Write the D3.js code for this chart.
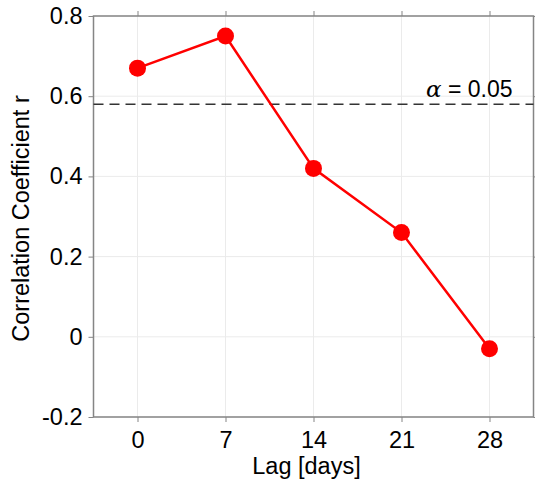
<!DOCTYPE html>
<html>
<head>
<meta charset="utf-8">
<script src="https://cdn.jsdelivr.net/npm/d3@7"></script>
<style>
  body { margin: 0; background: #fff; }
  svg text { font-family: "Liberation Sans", Arial, Helvetica, sans-serif; fill: #000; }
</style>
</head>
<body>
<svg id="chart"></svg>
<script>
// data
const lags = [0, 7, 14, 21, 28];
const rValues = [0.67, 0.75, 0.42, 0.26, -0.03];
const alphaLevel = 0.58;
const xTicks = [0, 7, 14, 21, 28];
const yTicks = [-0.2, 0, 0.2, 0.4, 0.6, 0.8];
const yTickLabels = ['-0.2', '0', '0.2', '0.4', '0.6', '0.8'];

const width = 535, height = 485;
const plot = {left: 93.5, right: 533.5, top: 16, bottom: 417};

const svg = d3.select('#chart')
  .attr('width', width)
  .attr('height', height);

const x = d3.scaleLinear()
  .domain([-3.5, 31.5])
  .range([plot.left, plot.right]);

const y = d3.scaleLinear()
  .domain([-0.2, 0.8])
  .range([plot.bottom, plot.top]);

// grid
const grid = svg.append('g');
grid.selectAll('.gx')
  .data(xTicks)
  .enter()
  .append('line')
  .attr('x1', d => x(d)).attr('x2', d => x(d))
  .attr('y1', plot.top).attr('y2', plot.bottom)
  .attr('stroke', '#ebebeb').attr('stroke-width', 1);
grid.selectAll('.gy')
  .data(yTicks)
  .enter()
  .append('line')
  .attr('x1', plot.left).attr('x2', plot.right)
  .attr('y1', d => y(d)).attr('y2', d => y(d))
  .attr('stroke', '#ebebeb').attr('stroke-width', 1);

// axes
const axisStyle = g => {
  g.select('.domain').remove();
  g.selectAll('.tick line').attr('stroke', '#858585').attr('stroke-width', 1);
  g.selectAll('.tick text').style('font-size', '23.5px').attr('fill', '#000');
};

svg.append('g')
  .attr('transform', `translate(0, ${plot.bottom})`)
  .call(d3.axisBottom(x).tickValues(xTicks).tickSize(5).tickPadding(9))
  .call(axisStyle);

svg.append('g')
  .attr('transform', `translate(0, ${plot.top})`)
  .call(d3.axisTop(x).tickValues(xTicks).tickSize(5).tickFormat(''))
  .call(axisStyle);

svg.append('g')
  .attr('transform', `translate(${plot.left}, 0)`)
  .call(d3.axisLeft(y).tickValues(yTicks).tickSize(5).tickPadding(6)
    .tickFormat((d, i) => yTickLabels[i]))
  .call(axisStyle);

svg.append('g')
  .attr('transform', `translate(${plot.right}, 0)`)
  .call(d3.axisRight(y).tickValues(yTicks).tickSize(5).tickFormat(''))
  .call(axisStyle);

// frame
svg.append('rect')
  .attr('x', plot.left).attr('y', plot.top)
  .attr('width', plot.right - plot.left)
  .attr('height', plot.bottom - plot.top)
  .attr('fill', 'none')
  .attr('stroke', '#858585')
  .attr('stroke-width', 1.5);

// significance line
svg.append('line')
  .attr('x1', plot.left).attr('x2', plot.right)
  .attr('y1', y(alphaLevel)).attr('y2', y(alphaLevel))
  .attr('stroke', '#333')
  .attr('stroke-width', 1.5)
  .attr('stroke-dasharray', '10,6');

const alphaText = svg.append('text')
  .attr('x', x(31.5) - 21)
  .attr('y', y(alphaLevel) - 7)
  .attr('text-anchor', 'end')
  .style('font-size', '23px');
alphaText.append('tspan')
  .style('font-family', '"DejaVu Serif", "Liberation Serif", serif')
  .style('font-style', 'italic')
  .text('α');
alphaText.append('tspan').text(' = 0.05');

// series
const line = d3.line()
  .x((d, i) => x(lags[i]))
  .y(d => y(d));

svg.append('path')
  .datum(rValues)
  .attr('d', line)
  .attr('fill', 'none')
  .attr('stroke', '#ff0000')
  .attr('stroke-width', 2.5);

svg.selectAll('.pt')
  .data(rValues)
  .enter()
  .append('circle')
  .attr('cx', (d, i) => x(lags[i]))
  .attr('cy', d => y(d))
  .attr('r', 8.5)
  .attr('fill', '#ff0000');

// axis labels
svg.append('text')
  .attr('x', (plot.left + plot.right) / 2 - 7)
  .attr('y', 474)
  .attr('text-anchor', 'middle')
  .style('font-size', '23.5px')
  .text('Lag [days]');

svg.append('text')
  .attr('transform', `translate(29, ${(plot.top + plot.bottom) / 2 + 2}) rotate(-90)`)
  .attr('text-anchor', 'middle')
  .style('font-size', '23.5px')
  .text('Correlation Coefficient r');
</script>
</body>
</html>
